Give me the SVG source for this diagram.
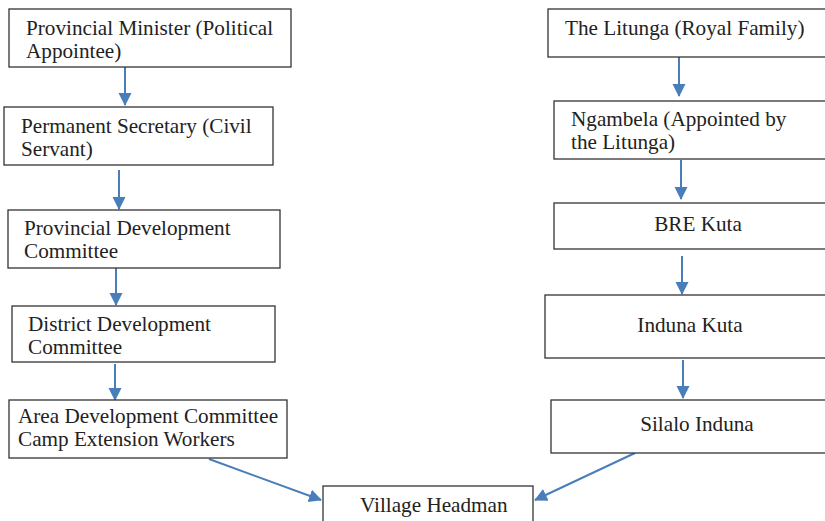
<svg xmlns="http://www.w3.org/2000/svg" width="825" height="521" viewBox="0 0 825 521">
<style>
rect{fill:#fff;stroke:#333;stroke-width:1.3}
text{font-family:"Liberation Serif","Times New Roman",serif;font-size:21.2px;fill:#222}
.c{text-anchor:middle}
.e{stroke:#4a7ebb;stroke-width:2;fill:none;marker-end:url(#ah)}
</style>
<defs>
<marker id="ah" markerUnits="userSpaceOnUse" markerWidth="14" markerHeight="14" refX="12" refY="6.5" orient="auto">
<path d="M0,0 L13,6.5 L0,13 Z" fill="#4a7ebb"/>
</marker>
</defs>
<rect width="825" height="521" style="fill:#fff;stroke:none"/>
<g id="connectors">
<line class="e" x1="125" y1="67" x2="125" y2="105"/>
<line class="e" x1="119" y1="170" x2="119" y2="209"/>
<line class="e" x1="116" y1="268" x2="116" y2="305"/>
<line class="e" x1="115" y1="364" x2="115" y2="400"/>
<line class="e" x1="209" y1="459" x2="321" y2="500"/>
<line class="e" x1="679" y1="57" x2="679" y2="96"/>
<line class="e" x1="681" y1="160" x2="681" y2="199"/>
<line class="e" x1="682" y1="256" x2="682" y2="294"/>
<line class="e" x1="683" y1="360" x2="683" y2="398"/>
<line class="e" x1="635" y1="453" x2="535" y2="500"/>
</g>
<g id="n1"><rect x="9" y="9" width="282" height="58"/><text x="26" y="35">Provincial Minister (Political</text><text x="26" y="58">Appointee)</text></g>
<g id="n2"><rect x="4" y="107" width="269" height="58"/><text x="21" y="133">Permanent Secretary (Civil</text><text x="21" y="156">Servant)</text></g>
<g id="n3"><rect x="8" y="210" width="272" height="58"/><text x="24" y="235">Provincial Development</text><text x="24" y="258">Committee</text></g>
<g id="n4"><rect x="12" y="306" width="263" height="56"/><text x="28" y="331">District Development</text><text x="28" y="354">Committee</text></g>
<g id="n5"><rect x="9" y="400" width="278" height="58"/><text x="18" y="423">Area Development Committee</text><text x="18" y="446">Camp Extension Workers</text></g>
<g id="n6"><rect x="323" y="486" width="210" height="40"/><text x="360" y="512">Village Headman</text></g>
<g id="n7"><rect x="548" y="9" width="282" height="48"/><text x="565" y="35">The Litunga (Royal Family)</text></g>
<g id="n8"><rect x="554" y="101" width="276" height="58"/><text x="571" y="126">Ngambela (Appointed by</text><text x="571" y="149">the Litunga)</text></g>
<g id="n9"><rect x="554" y="203" width="276" height="46"/><text class="c" x="698" y="231">BRE Kuta</text></g>
<g id="n10"><rect x="545" y="295" width="285" height="63"/><text class="c" x="690" y="332">Induna Kuta</text></g>
<g id="n11"><rect x="551" y="400" width="279" height="53"/><text class="c" x="697" y="431">Silalo Induna</text></g>
</svg>
